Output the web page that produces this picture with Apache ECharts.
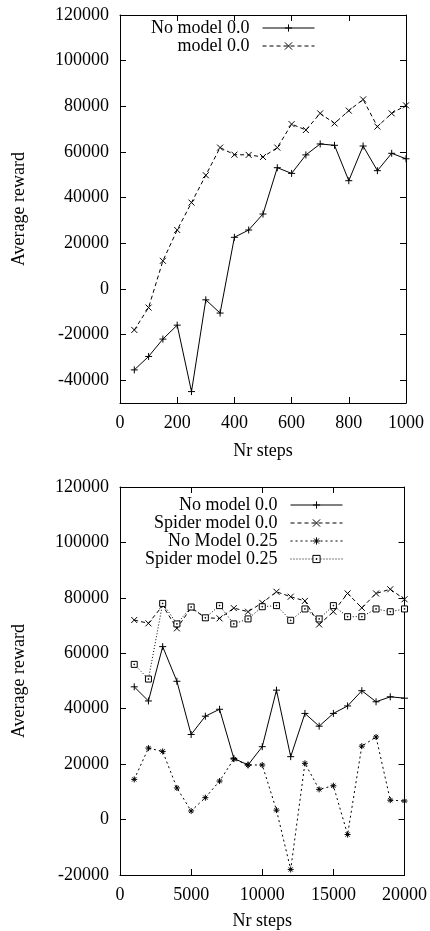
<!DOCTYPE html>
<html>
<head>
<meta charset="utf-8">
<title>Average reward</title>
<script src="https://cdn.jsdelivr.net/npm/echarts@6/dist/echarts.min.js"></script>
<style>
  html, body { margin: 0; padding: 0; background: #fff; }
  #chart { width: 430px; height: 931px; }
</style>
</head>
<body>
<div id="chart"></div>
<script>
// top chart: short runs
var stepsA = [50, 100, 150, 200, 250, 300, 350, 400, 450, 500, 550, 600, 650, 700, 750, 800, 850, 900, 950, 1000]
var noModelA = [-35500, -29600, -22000, -15900, -45000, -4800, -10600, 22600, 25800, 32800, 53100, 50600, 58700, 63500, 62900, 47400, 62600, 51800, 59400, 57000]
var modelA = [-18000, -8200, 12300, 25800, 37800, 49800, 61900, 58800, 58700, 57800, 61900, 72200, 69600, 76900, 72500, 78100, 83000, 71100, 76900, 80400]

// bottom chart: long runs
var stepsB = [1000, 2000, 3000, 4000, 5000, 6000, 7000, 8000, 9000, 10000, 11000, 12000, 13000, 14000, 15000, 16000, 17000, 18000, 19000, 20000]
var noModelB = [47900, 42800, 62400, 49900, 30700, 37300, 39800, 22100, 19700, 26300, 46700, 22700, 38300, 33700, 38300, 41000, 46500, 42500, 44300, 43800]
var spiderB = [72000, 70800, 77200, 69000, 76400, 72800, 72600, 76300, 75000, 78200, 82200, 80400, 78900, 70400, 75000, 81600, 76400, 81600, 83100, 79500]
var noModel25B = [14500, 25800, 24600, 11400, 3100, 7900, 13900, 21800, 19700, 19700, 3400, -18000, 20300, 10900, 12200, -5400, 26500, 29800, 7000, 6700]
var spider25B = [56000, 50700, 78000, 70600, 76700, 72800, 77200, 70600, 72400, 76800, 77200, 71900, 76000, 72400, 77200, 73200, 73200, 76000, 75000, 76000]

var yTicksA = [-40000, -20000, 0, 20000, 40000, 60000, 80000, 100000, 120000]

var FONT = 'Liberation Serif'
var plusSym = 'path://M0,5L10,5M5,0L5,10'
var crossSym = 'path://M0,0L10,10M10,0L0,10'
var starSym = 'path://M0,5L10,5M5,0L5,10M1.5,1.5L8.5,8.5M8.5,1.5L1.5,8.5'
// open square with a dot in the middle, like gnuplot's pt 4
var squareSym = 'path://M0,0L10,0L10,10L0,10Z M4.4,4.4L5.6,4.4L5.6,5.6L4.4,5.6Z'

var pairs = function (xs, ys) {
  return xs.map(function (x, i) { return [x, ys[i]] })
}

var txt = { fontFamily: FONT, fontSize: 18, color: '#000' }

// bottom/left axes with labels, top/right are just mirrored ticks
var mainAxis = function (grid, pos, extra) {
  return Object.assign({
    type: 'value',
    gridIndex: grid,
    position: pos,
    axisLine: { show: true, onZero: false, lineStyle: { color: '#000', width: 1 } },
    axisTick: { show: true, inside: true, length: 6, lineStyle: { color: '#000' } },
    axisLabel: Object.assign({ margin: 11, formatter: function (v) { return String(v) } }, txt),
    splitLine: { show: false }
  }, extra)
}
var mirrorAxis = function (grid, pos, extra) {
  var a = mainAxis(grid, pos, extra)
  a.axisLabel = { show: false }
  a.name = ''
  return a
}

var lineSeries = function (name, x, y, data, sym, dash, size, fill) {
  return {
    type: 'line',
    name: name,
    xAxisIndex: x,
    yAxisIndex: y,
    data: data,
    symbol: sym,
    symbolSize: size,
    showAllSymbol: true,
    lineStyle: { color: '#000', width: 1, type: dash },
    itemStyle: { color: fill || 'none', borderColor: '#000', borderWidth: 1 },
    emphasis: { disabled: true }
  }
}

var legendBase = {
  orient: 'vertical',
  align: 'right',
  itemWidth: 52,
  itemHeight: 9,
  itemGap: 0,
  selectedMode: false,
  lineStyle: { width: 1 },
  itemStyle: { borderWidth: 1 },
  textStyle: Object.assign({ lineHeight: 18, padding: [0, 8, 0, 0] }, txt)
}

var option = {
  animation: false,
  backgroundColor: '#fff',
  grid: [
    { left: 120, top: 15, width: 286, height: 388 },
    { left: 120, top: 487, width: 286, height: 388 }
  ],
  legend: [
    Object.assign({ right: 110, top: 14, data: ['No model 0.0', 'model 0.0'] }, legendBase),
    Object.assign({ right: 82, top: 491, data: ['No model 0.0', 'Spider model 0.0', 'No Model 0.25', 'Spider model 0.25'] }, legendBase)
  ],
  xAxis: [
    mainAxis(0, 'bottom', { min: 0, max: 1000, interval: 200, name: 'Nr steps', nameLocation: 'middle', nameGap: 39, nameTextStyle: txt }),
    mirrorAxis(0, 'top', { min: 0, max: 1000, interval: 200 }),
    mainAxis(1, 'bottom', { min: 0, max: 20000, interval: 5000, name: 'Nr steps', nameLocation: 'middle', nameGap: 37, nameTextStyle: txt }),
    mirrorAxis(1, 'top', { min: 0, max: 20000, interval: 5000 })
  ],
  yAxis: [
    mainAxis(0, 'left', {
      min: -50000, max: 120000,
      name: 'Average reward', nameLocation: 'middle', nameGap: 92, nameTextStyle: txt
    }),
    mirrorAxis(0, 'right', { min: -50000, max: 120000 }),
    mainAxis(1, 'left', {
      min: -20000, max: 120000, interval: 20000,
      name: 'Average reward', nameLocation: 'middle', nameGap: 92, nameTextStyle: txt
    }),
    mirrorAxis(1, 'right', { min: -20000, max: 120000, interval: 20000 })
  ],
  series: [
    lineSeries('No model 0.0', 0, 0, pairs(stepsA, noModelA), plusSym, 'solid', 7),
    lineSeries('model 0.0', 0, 0, pairs(stepsA, modelA), crossSym, [4, 3], 6),
    lineSeries('No model 0.0', 2, 2, pairs(stepsB, noModelB), plusSym, 'solid', 7),
    lineSeries('Spider model 0.0', 2, 2, pairs(stepsB, spiderB), crossSym, [4, 3], 6),
    lineSeries('No Model 0.25', 2, 2, pairs(stepsB, noModel25B), starSym, [2, 3], 6),
    lineSeries('Spider model 0.25', 2, 2, pairs(stepsB, spider25B), squareSym, [1, 2], 6, '#fff')
  ]
}

// top y axis starts at -50000 but is labelled every 20000
option.yAxis[0].axisLabel.customValues = yTicksA
option.yAxis[0].axisTick.customValues = yTicksA
option.yAxis[1].axisTick.customValues = yTicksA

var myChart = echarts.init(document.getElementById('chart'))
myChart.setOption(option)
</script>
</body>
</html>
